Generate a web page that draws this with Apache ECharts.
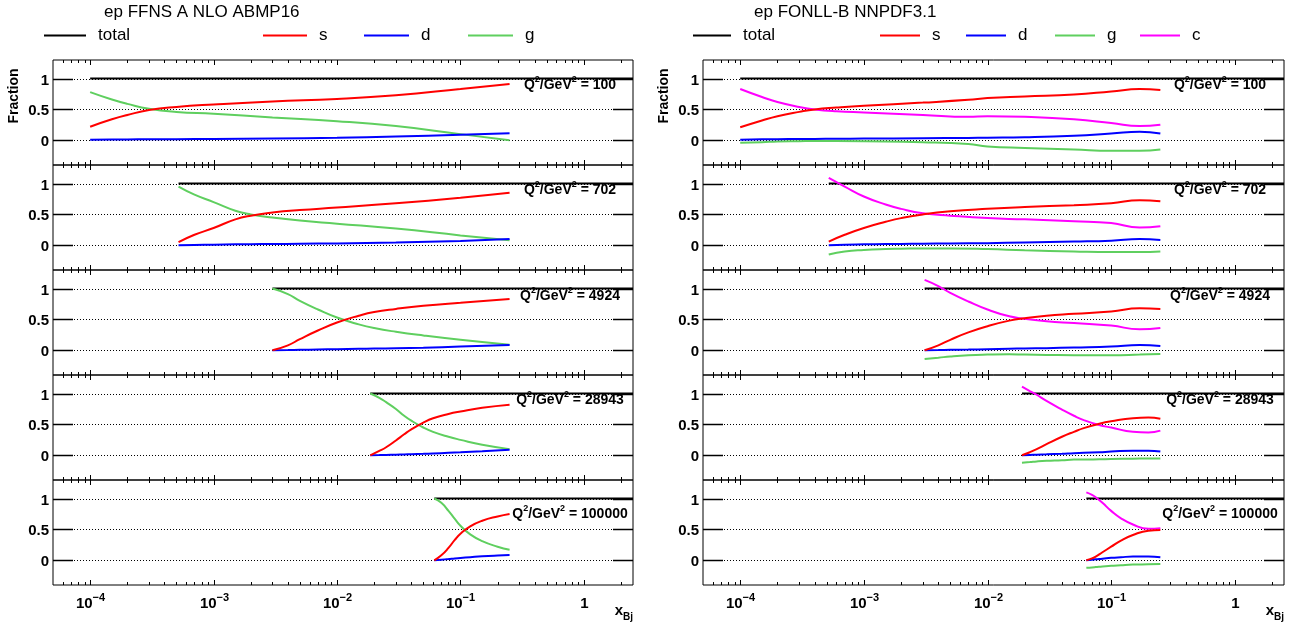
<!DOCTYPE html>
<html>
<head>
<meta charset="utf-8">
<script src="https://cdn.jsdelivr.net/npm/echarts/dist/echarts.min.js"></script>
<style>
  html, body { margin: 0; padding: 0; background: #ffffff; }
  #chart { width: 1295px; height: 628px; }
</style>
</head>
<body>
<div id="chart"></div>
<script>
// ---------------- axis / tick data ----------------
const X_MIN = 5e-5, X_MAX = 2.5;
const Y_MIN = -0.4, Y_MAX = 1.3;
const TOTAL = 1;
const yTickValues = [0, 0.5, 1];
const yTickLabels = ['0', '0.5', '1'];
const xMajorTicks = [1e-4, 1e-3, 1e-2, 1e-1, 1];
const xTickLabels = ['10{s|\u22124}', '10{s|\u22123}', '10{s|\u22122}', '10{s|\u22121}', '1'];
const minorMultipliers = [2, 3, 4, 5, 6, 7, 8, 9];
const minorDecades = [1e-5, 1e-4, 1e-3, 1e-2, 1e-1, 1];
const q2Values = [100, 702, 4924, 28943, 100000];
const titles = ['ep FFNS A NLO ABMP16', 'ep FONLL-B NNPDF3.1'];

// ---------------- ep FFNS A NLO ABMP16 ----------------
const abm_q100_x = [1e-4, 1.5e-4, 2e-4, 3e-4, 5e-4, 1e-3, 3e-3, 1e-2, 3e-2, 0.1, 0.25];
const abm_q100_s = [0.22, 0.34, 0.41, 0.49, 0.54, 0.58, 0.63, 0.67, 0.73, 0.83, 0.91];
const abm_q100_d = [0.01, 0.012, 0.014, 0.016, 0.018, 0.022, 0.03, 0.04, 0.06, 0.09, 0.115];
const abm_q100_g = [0.78, 0.66, 0.59, 0.51, 0.46, 0.43, 0.37, 0.31, 0.23, 0.10, 0.0];

const abm_q702_x = [5.2e-4, 7e-4, 1e-3, 1.5e-3, 2e-3, 3e-3, 5e-3, 1e-2, 3e-2, 0.1, 0.25];
const abm_q702_s = [0.05, 0.17, 0.28, 0.42, 0.48, 0.53, 0.57, 0.61, 0.68, 0.77, 0.85];
const abm_q702_d = [0.0, 0.005, 0.01, 0.015, 0.018, 0.02, 0.025, 0.03, 0.045, 0.07, 0.1];
const abm_q702_g = [0.95, 0.82, 0.70, 0.56, 0.50, 0.45, 0.40, 0.35, 0.27, 0.16, 0.08];

const abm_q4924_x = [3.0e-3, 4e-3, 5e-3, 7e-3, 1e-2, 1.5e-2, 2e-2, 3e-2, 5e-2, 0.1, 0.25];
const abm_q4924_s = [0.0, 0.08, 0.18, 0.32, 0.45, 0.56, 0.62, 0.67, 0.72, 0.77, 0.83];
const abm_q4924_d = [0.0, 0.004, 0.008, 0.013, 0.018, 0.024, 0.028, 0.034, 0.043, 0.06, 0.085];
const abm_q4924_g = [1.0, 0.91, 0.80, 0.66, 0.53, 0.42, 0.36, 0.30, 0.24, 0.17, 0.09];

const abm_q28943_x = [0.0186, 0.022, 0.025, 0.03, 0.035, 0.04, 0.05, 0.06, 0.08, 0.1, 0.15, 0.25];
const abm_q28943_s = [0.0, 0.07, 0.13, 0.24, 0.34, 0.42, 0.53, 0.60, 0.67, 0.71, 0.77, 0.82];
const abm_q28943_d = [0.0, 0.003, 0.006, 0.01, 0.014, 0.018, 0.024, 0.03, 0.04, 0.048, 0.065, 0.09];
const abm_q28943_g = [1.0, 0.93, 0.86, 0.75, 0.64, 0.56, 0.45, 0.38, 0.30, 0.25, 0.17, 0.10];

const abm_q100000_x = [0.0614, 0.07, 0.08, 0.09, 0.1, 0.12, 0.15, 0.2, 0.25];
const abm_q100000_s = [0.0, 0.08, 0.2, 0.33, 0.43, 0.55, 0.64, 0.71, 0.75];
const abm_q100000_d = [0.0, 0.01, 0.02, 0.03, 0.037, 0.05, 0.065, 0.078, 0.085];
const abm_q100000_g = [1.0, 0.93, 0.80, 0.67, 0.56, 0.42, 0.31, 0.22, 0.17];

// ---------------- ep FONLL-B NNPDF3.1 ----------------
const nn_q100_x = [1e-4, 1.5e-4, 2e-4, 3e-4, 4e-4, 6e-4, 1e-3, 3e-3, 7e-3, 1e-2, 2e-2, 5e-2, 0.1, 0.17, 0.25];
const nn_q100_s = [0.21, 0.32, 0.39, 0.46, 0.50, 0.53, 0.56, 0.61, 0.655, 0.685, 0.71, 0.74, 0.79, 0.83, 0.815];
const nn_q100_d = [0.01, 0.015, 0.018, 0.02, 0.022, 0.025, 0.028, 0.033, 0.038, 0.042, 0.05, 0.075, 0.11, 0.14, 0.11];
const nn_q100_g = [-0.04, -0.03, -0.02, -0.015, -0.012, -0.012, -0.015, -0.03, -0.06, -0.1, -0.125, -0.15, -0.17, -0.17, -0.15];
const nn_q100_c = [0.83, 0.70, 0.62, 0.54, 0.50, 0.47, 0.45, 0.41, 0.38, 0.39, 0.38, 0.34, 0.28, 0.23, 0.25];

const nn_q702_x = [5.2e-4, 7e-4, 1e-3, 1.5e-3, 2e-3, 3e-3, 5e-3, 1e-2, 2e-2, 5e-2, 0.1, 0.17, 0.25];
const nn_q702_s = [0.06, 0.17, 0.28, 0.38, 0.44, 0.50, 0.55, 0.59, 0.62, 0.65, 0.68, 0.73, 0.715];
const nn_q702_d = [0.0, 0.01, 0.015, 0.02, 0.022, 0.025, 0.03, 0.035, 0.045, 0.06, 0.075, 0.1, 0.085];
const nn_q702_g = [-0.15, -0.10, -0.075, -0.06, -0.055, -0.05, -0.05, -0.06, -0.08, -0.1, -0.11, -0.11, -0.10];
const nn_q702_c = [1.09, 0.95, 0.79, 0.66, 0.59, 0.52, 0.48, 0.44, 0.42, 0.39, 0.36, 0.29, 0.31];

const nn_q4924_x = [3.1e-3, 4e-3, 5e-3, 7e-3, 1e-2, 1.5e-2, 2e-2, 3e-2, 5e-2, 0.1, 0.17, 0.25];
const nn_q4924_s = [0.0, 0.08, 0.17, 0.29, 0.39, 0.48, 0.52, 0.56, 0.59, 0.63, 0.68, 0.67];
const nn_q4924_d = [0.0, 0.004, 0.008, 0.012, 0.018, 0.025, 0.03, 0.035, 0.045, 0.06, 0.085, 0.07];
const nn_q4924_g = [-0.14, -0.12, -0.1, -0.08, -0.07, -0.065, -0.07, -0.075, -0.08, -0.08, -0.07, -0.06];
const nn_q4924_c = [1.14, 1.04, 0.93, 0.79, 0.66, 0.55, 0.51, 0.47, 0.44, 0.40, 0.34, 0.36];

const nn_q28943_x = [0.019, 0.022, 0.025, 0.03, 0.04, 0.05, 0.06, 0.08, 0.1, 0.15, 0.2, 0.25];
const nn_q28943_s = [0.0, 0.05, 0.10, 0.18, 0.30, 0.38, 0.44, 0.51, 0.55, 0.60, 0.61, 0.59];
const nn_q28943_d = [0.0, 0.005, 0.01, 0.015, 0.025, 0.035, 0.04, 0.05, 0.06, 0.075, 0.075, 0.06];
const nn_q28943_g = [-0.12, -0.11, -0.1, -0.09, -0.08, -0.07, -0.07, -0.065, -0.06, -0.055, -0.05, -0.05];
const nn_q28943_c = [1.11, 1.04, 0.98, 0.88, 0.74, 0.64, 0.57, 0.49, 0.45, 0.38, 0.37, 0.40];

const nn_q100000_x = [0.063, 0.07, 0.075, 0.085, 0.1, 0.12, 0.15, 0.2, 0.25];
const nn_q100000_s = [0.0, 0.03, 0.06, 0.13, 0.22, 0.32, 0.41, 0.48, 0.49];
const nn_q100000_d = [0.0, 0.008, 0.015, 0.025, 0.04, 0.05, 0.06, 0.06, 0.05];
const nn_q100000_g = [-0.12, -0.115, -0.11, -0.1, -0.09, -0.08, -0.07, -0.065, -0.06];
const nn_q100000_c = [1.1, 1.06, 1.02, 0.93, 0.8, 0.68, 0.58, 0.51, 0.52];

// ---------------- assembling ----------------
const panels = [
  { col: 0, row: 0, x: abm_q100_x, s: abm_q100_s, d: abm_q100_d, g: abm_q100_g },
  { col: 0, row: 1, x: abm_q702_x, s: abm_q702_s, d: abm_q702_d, g: abm_q702_g },
  { col: 0, row: 2, x: abm_q4924_x, s: abm_q4924_s, d: abm_q4924_d, g: abm_q4924_g },
  { col: 0, row: 3, x: abm_q28943_x, s: abm_q28943_s, d: abm_q28943_d, g: abm_q28943_g },
  { col: 0, row: 4, x: abm_q100000_x, s: abm_q100000_s, d: abm_q100000_d, g: abm_q100000_g },
  { col: 1, row: 0, x: nn_q100_x, s: nn_q100_s, d: nn_q100_d, g: nn_q100_g, c: nn_q100_c },
  { col: 1, row: 1, x: nn_q702_x, s: nn_q702_s, d: nn_q702_d, g: nn_q702_g, c: nn_q702_c },
  { col: 1, row: 2, x: nn_q4924_x, s: nn_q4924_s, d: nn_q4924_d, g: nn_q4924_g, c: nn_q4924_c },
  { col: 1, row: 3, x: nn_q28943_x, s: nn_q28943_s, d: nn_q28943_d, g: nn_q28943_g, c: nn_q28943_c },
  { col: 1, row: 4, x: nn_q100000_x, s: nn_q100000_s, d: nn_q100000_d, g: nn_q100000_g, c: nn_q100000_c }
];

// ---------------- layout & style ----------------
const FONT = '"Liberation Sans", Arial, Helvetica, sans-serif';
const COL_LEFT = [53, 703];
const COL_WIDTH = [580, 581];
const ROW_TOP = 60, ROW_H = 105, N_ROWS = 5;
const ANN_DX = 517;
const ANN_DY = [25, 25, 26, 25, 34];
const COLORS = { total: '#000000', s: '#ff0000', d: '#0000ff', g: '#5fcf5f', c: '#ff00ff' };

const xMinorTicks = [];
minorDecades.forEach(dec => minorMultipliers.forEach(m => {
  const v = m * dec;
  if (v > X_MIN && v < X_MAX) xMinorTicks.push(v);
}));

const richBold = (size) => ({ fontSize: size, fontWeight: 'bold', fontFamily: FONT, fill: '#000', color: '#000' });

function makeFrame(row, q2) {
  return function (params, api) {
    const cs = params.coordSys;
    const L = cs.x, R = cs.x + cs.width, T = cs.y, B = cs.y + cs.height;
    const kids = [];
    const solid = { stroke: '#000', lineWidth: 1 };
    const seg = (x1, y1, x2, y2, style) => kids.push({ type: 'line', shape: { x1, y1, x2, y2 }, style });
    yTickValues.forEach((v, k) => {
      const py = Math.round(api.coord([X_MIN, v])[1]) + 0.5;
      seg(L, py, R, py, { stroke: '#000', lineWidth: 1, lineDash: [1, 2] });
      seg(L, py, L + 20, py, { stroke: '#000', lineWidth: 1.5 });
      seg(R - 20, py, R, py, { stroke: '#000', lineWidth: 1.5 });
      kids.push({ type: 'text', style: { text: yTickLabels[k], x: L - 4, y: py + 1, align: 'right', verticalAlign: 'middle', fill: '#000', font: 'bold 15px ' + FONT } });
    });
    xMajorTicks.forEach((v, k) => {
      const px = Math.round(api.coord([v, 0])[0]) + 0.5;
      seg(px, T, px, T + 5, solid);
      seg(px, B - 5, px, B, solid);
      if (row === N_ROWS - 1) {
        kids.push({ type: 'text', style: {
          text: xTickLabels[k], x: px, y: B + 19, align: 'center', verticalAlign: 'middle',
          fill: '#000', font: 'bold 15px ' + FONT,
          rich: { s: Object.assign(richBold(11), { padding: [0, 0, 12, 0] }) }
        } });
      }
    });
    xMinorTicks.forEach(v => {
      const px = Math.round(api.coord([v, 0])[0]) + 0.5;
      seg(px, T, px, T + 3, solid);
      seg(px, B - 3, px, B, solid);
    });
    kids.push({ type: 'text', style: {
      text: '{b|Q}{s|2}{b|/GeV}{s|2}{b| = ' + q2 + '}', x: L + ANN_DX, y: T + ANN_DY[row],
      align: 'center', verticalAlign: 'middle', fill: '#000', font: 'bold 14px ' + FONT,
      rich: { b: richBold(14), s: Object.assign(richBold(9), { padding: [0, 0, 10, 0] }) }
    } });
    return { type: 'group', children: kids };
  };
}

const grids = [], xAxes = [], yAxes = [], series = [];
panels.forEach((p, i) => {
  grids.push({ left: COL_LEFT[p.col], top: ROW_TOP + p.row * ROW_H, width: COL_WIDTH[p.col], height: ROW_H,
    show: true, borderColor: '#000', borderWidth: 1, backgroundColor: 'transparent' });
  xAxes.push({ type: 'log', logBase: 10, gridIndex: i, min: X_MIN, max: X_MAX,
    axisLine: { show: false }, axisTick: { show: false }, axisLabel: { show: false }, splitLine: { show: false } });
  yAxes.push({ type: 'value', gridIndex: i, min: Y_MIN, max: Y_MAX,
    axisLine: { show: false }, axisTick: { show: false }, axisLabel: { show: false }, splitLine: { show: false } });
  series.push({ type: 'custom', xAxisIndex: i, yAxisIndex: i, silent: true, z: 1,
    data: [[1, 0]], renderItem: makeFrame(p.row, q2Values[p.row]) });
  series.push({ name: 'total', type: 'line', xAxisIndex: i, yAxisIndex: i, z: 3, silent: true,
    data: [[p.x[0], TOTAL], [X_MAX, TOTAL]], showSymbol: false, color: COLORS.total,
    lineStyle: { width: 2, color: COLORS.total } });
  ['g', 'd', 'c', 's'].forEach(key => {
    if (!p[key]) return;
    series.push({ name: key, type: 'line', xAxisIndex: i, yAxisIndex: i, z: 4, silent: true,
      data: p.x.map((xv, j) => [xv, p[key][j]]), showSymbol: false, smooth: 0.5,
      color: COLORS[key], lineStyle: { width: 2, color: COLORS[key] } });
  });
});

const legendItems = [
  { name: 'total', left: 44, w: 42 }, { name: 's', left: 263, w: 44 }, { name: 'd', left: 364, w: 45 }, { name: 'g', left: 468, w: 45 },
  { name: 'total', left: 693, w: 38 }, { name: 's', left: 880, w: 40 }, { name: 'd', left: 966, w: 40 }, { name: 'g', left: 1055, w: 40 }, { name: 'c', left: 1140, w: 40 }
];
const legends = legendItems.map(li => ({
  data: [li.name], left: li.left, top: 27, icon: 'rect', itemWidth: li.w, itemHeight: 2, padding: 0,
  selectedMode: false, textStyle: { fontSize: 17, fontFamily: FONT, color: '#000', padding: [0, 0, 0, 7] }
}));

const graphics = [];
[0, 1].forEach(col => {
  graphics.push({ type: 'text', x: COL_LEFT[col] - 39, y: 96, rotation: Math.PI / 2,
    style: { text: 'Fraction', align: 'center', verticalAlign: 'middle', fill: '#000', font: 'bold 14px ' + FONT } });
  graphics.push({ type: 'text', x: COL_LEFT[col] + COL_WIDTH[col], y: 611,
    style: { text: '{x|x}{b|Bj}', align: 'right', verticalAlign: 'middle', fill: '#000', font: 'bold 15px ' + FONT,
      rich: { x: richBold(15), b: Object.assign(richBold(10), { padding: [12, 0, 0, 0] }) } } });
});

const chart = echarts.init(document.getElementById('chart'), null, { renderer: 'canvas', width: 1295, height: 628 });
chart.setOption({
  animation: false,
  backgroundColor: '#ffffff',
  title: [
    { text: titles[0], left: 104, top: 4, padding: 0, textStyle: { fontSize: 17, fontWeight: 'normal', fontFamily: FONT, color: '#000' } },
    { text: titles[1], left: 754, top: 4, padding: 0, textStyle: { fontSize: 17, fontWeight: 'normal', fontFamily: FONT, color: '#000' } }
  ],
  legend: legends,
  grid: grids,
  xAxis: xAxes,
  yAxis: yAxes,
  series: series,
  graphic: graphics
});
</script>
</body>
</html>
